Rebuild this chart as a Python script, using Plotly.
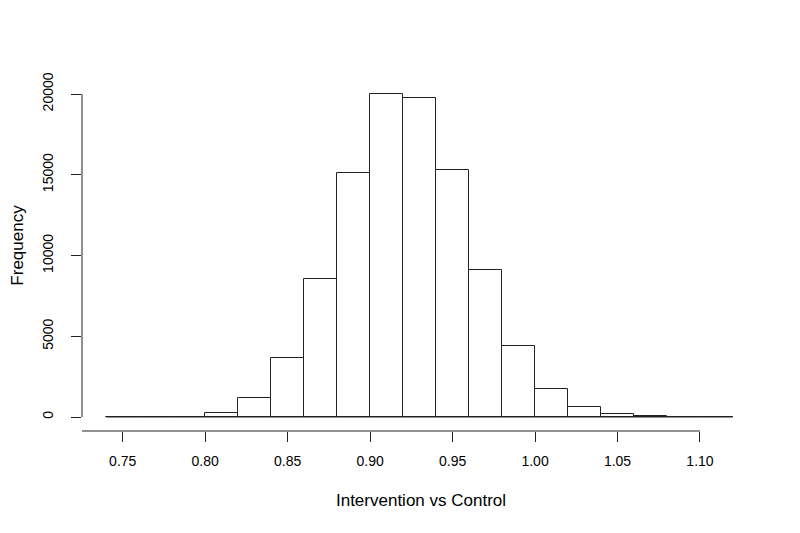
import plotly.graph_objects as go

bin_edges = [round(0.74 + 0.02 * i, 2) for i in range(20)]
counts = [0, 3, 30, 250, 1150, 3670, 8560, 15090, 20000, 19730,
          15280, 9080, 4400, 1720, 590, 180, 45, 8, 2]
x_ticks = [0.75, 0.80, 0.85, 0.90, 0.95, 1.00, 1.05, 1.10]
x_tick_labels = ["0.75", "0.80", "0.85", "0.90", "0.95", "1.00", "1.05", "1.10"]
y_ticks = [0, 5000, 10000, 15000, 20000]
y_tick_labels = ["0", "5000", "10000", "15000", "20000"]

centers = [(bin_edges[i] + bin_edges[i + 1]) / 2 for i in range(len(counts))]
width = bin_edges[1] - bin_edges[0]

FONT = "Liberation Sans, Arial, Helvetica, sans-serif"
LC = "#222222"
XR = [0.7253, 1.1364]

fig = go.Figure()
fig.add_trace(go.Bar(
    x=centers, y=counts, width=width,
    marker=dict(color="white", line=dict(color=LC, width=1)),
    hoverinfo="x+y",
))

# baseline of zero-height bins
fig.add_shape(type="line", xref="x", yref="y",
              x0=bin_edges[0], x1=bin_edges[-1], y0=0, y1=0,
              line=dict(color=LC, width=1))
# x axis line
fig.add_shape(type="line", xref="paper", yref="paper",
              x0=0, x1=(x_ticks[-1] - XR[0]) / (XR[1] - XR[0]), y0=0, y1=0,
              line=dict(color=LC, width=1))
# y axis line
fig.add_shape(type="line", xref="paper", yref="y",
              x0=0, x1=0, y0=y_ticks[0], y1=y_ticks[-1],
              line=dict(color=LC, width=1))

fig.update_layout(
    width=784, height=517,
    margin=dict(l=74, r=32, t=52, b=94, autoexpand=False),
    plot_bgcolor="white", paper_bgcolor="white",
    showlegend=False, bargap=0,
    font=dict(family=FONT, size=14, color="black"),
    xaxis=dict(
        range=XR, tickmode="array", automargin=False,
        tickvals=x_ticks, ticktext=x_tick_labels,
        ticks="outside", ticklen=10, tickcolor=LC, tickwidth=1,
        showgrid=False, zeroline=False, showline=False,
        ticklabelstandoff=7,
        title=dict(text="Intervention vs Control", standoff=26),
    ),
    yaxis=dict(
        range=[-867, 22105], tickmode="array", automargin=False,
        tickvals=y_ticks, ticktext=y_tick_labels, tickangle=-90,
        ticks="outside", ticklen=10, tickcolor=LC, tickwidth=1,
        showgrid=False, zeroline=False, showline=False,
        ticklabelstandoff=12,
        title=dict(text="Frequency", standoff=22),
    ),
)

fig.write_html("out.html")
